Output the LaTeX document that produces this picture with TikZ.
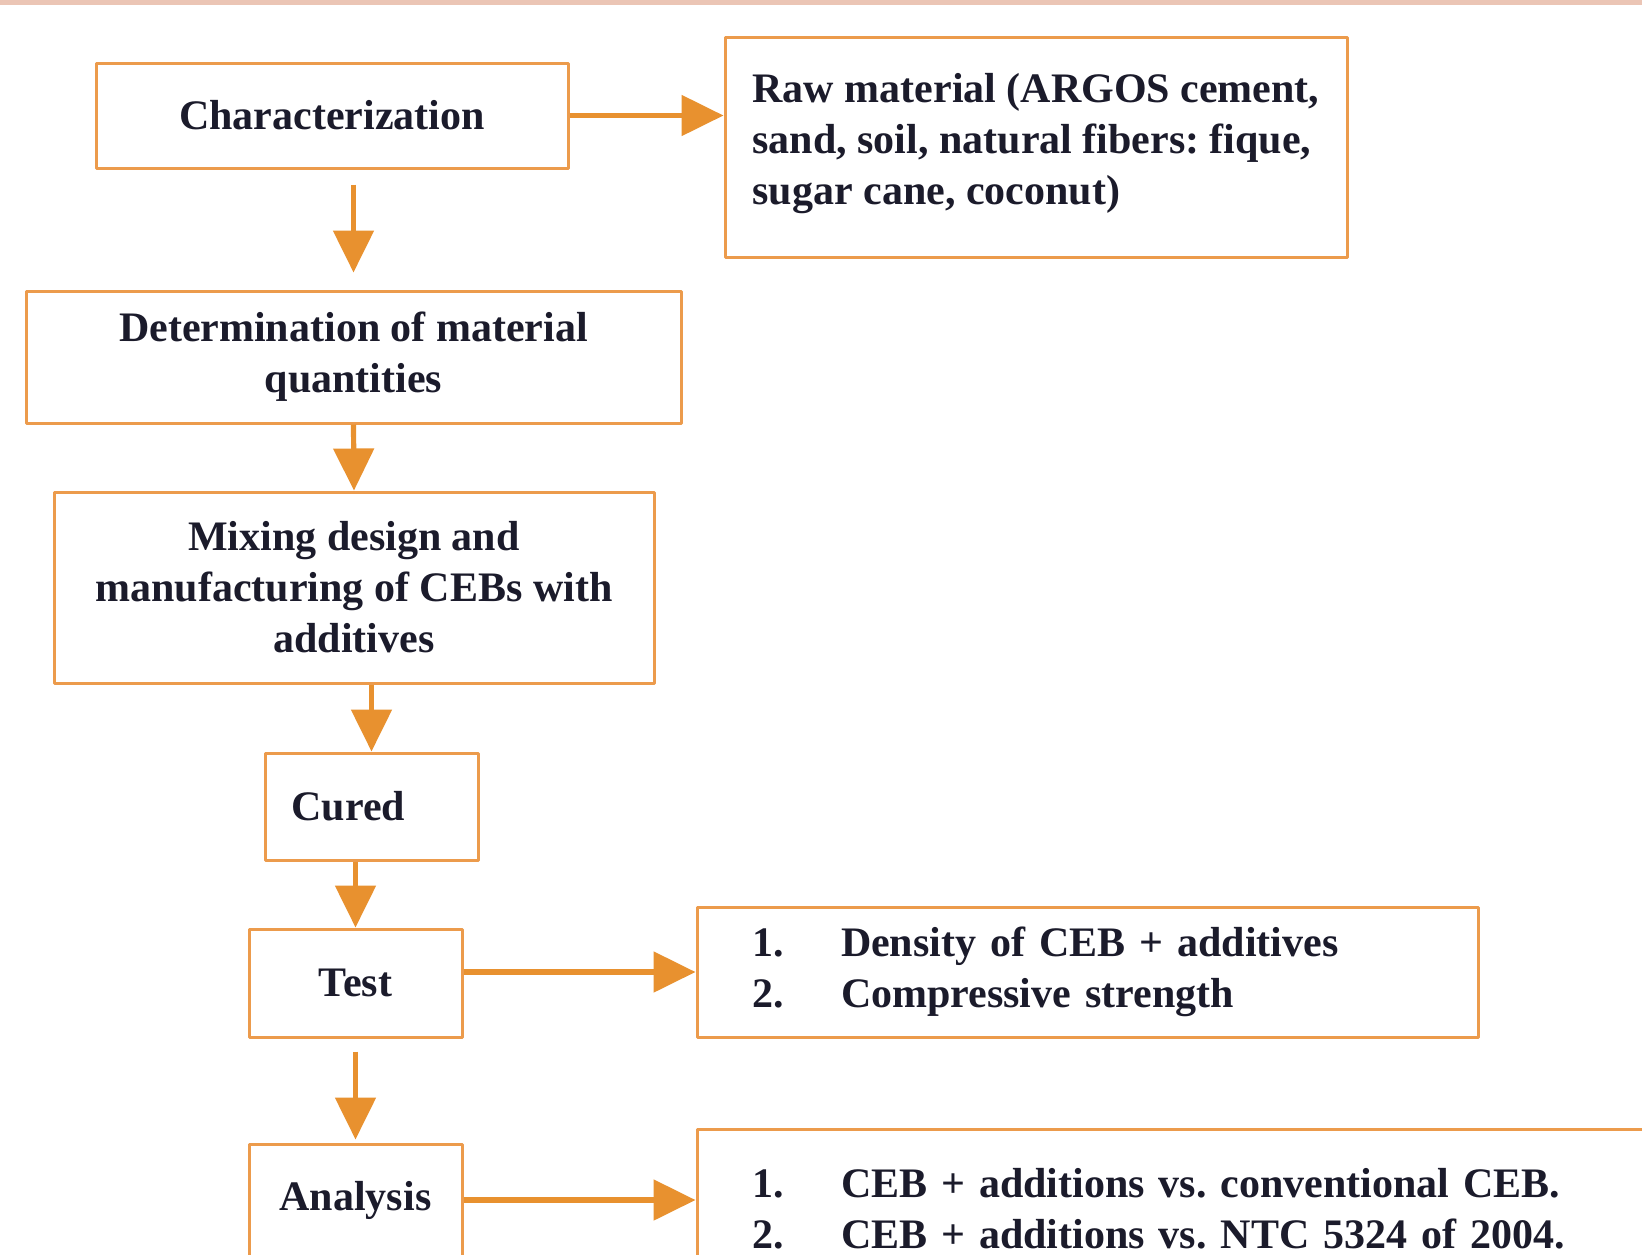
\documentclass[tikz,border=0pt]{standalone}
\usepackage{fontspec}
\setmainfont{Liberation Serif}
\usepackage{xcolor}
\usetikzlibrary{arrows.meta}
\frenchspacing

\definecolor{boxorange}{HTML}{EC9B4C}
\definecolor{arroworange}{HTML}{E8912F}
\definecolor{inkblue}{HTML}{1B1B2B}
\definecolor{stripe}{HTML}{EBC5B5}

\newcommand{\listitem}[2]{\makebox[44.5pt][l]{#1}#2}

\begin{document}
\begin{tikzpicture}[
				x=0.5pt,
				y=-0.5pt,
				line cap=round,
				line join=round,
				every node/.style={font=\fontsize{21}{25.5}\selectfont\bfseries,text=inkblue},
				box/.style={draw=boxorange,line width=1.5pt,fill=white,inner sep=0pt,align=center},
				flow/.style={draw=arroworange,line width=2.6pt,line cap=butt,
					-{Triangle[length=21pt,width=20pt]}}
				]
				\clip (0,0) rectangle (1642,1254);
				\fill[white] (0,0) rectangle (1642,1254);
				\fill[stripe] (0,0) rectangle (1642,5);
				
				% left column
				\node[box,minimum width=236pt,minimum height=52.5pt] (char) at (332,115.5)
				{Characterization};
				\node[box,minimum width=327.5pt,minimum height=66pt] (det) at (353.5,357)
				{Determination of material\\quantities};
				\node[box,minimum width=300pt,minimum height=95.5pt] (mix) at (354,587.5)
				{Mixing design and\\manufacturing of CEBs with\\additives};
				\node[box,minimum width=106.5pt,minimum height=53.5pt,
				text width=80pt,align=left] (cured) at (371.5,806.5) {Cured};
				\node[box,minimum width=106.5pt,minimum height=54pt] (test) at (355.5,983)
				{Test};
				\node[box,minimum width=106.5pt,minimum height=56pt] (analysis) at (355.5,1200)
				{Analysis};
				
				% right column
				\node[box,minimum width=311pt,minimum height=110pt,align=left] (raw) at (1036,147)
				{Raw material (ARGOS cement,\\sand, soil, natural fibers: fique,\\sugar cane, coconut)\\[-17pt]};
				\node[box,minimum width=390.5pt,minimum height=65pt,
				text width=335.5pt,align=left] (dens) at (1087.5,972)
				{\listitem{1.}{Density of CEB + additives}\\
					\listitem{2.}{Compressive strength}};
				\node[box,minimum width=482.5pt,minimum height=80pt,
				text width=427.5pt,align=left] (comp) at (1179.5,1209)
				{\listitem{1.}{CEB + additions vs. conventional CEB.}\\
					\listitem{2.}{CEB + additions vs. NTC 5324 of 2004.}};
				
				% arrows
				\draw[flow] (char.east) -- (char.east -| raw.west);
				\draw[flow,shorten <=7.5pt,shorten >=8.5pt] (det.north |- char.south) -- (det.north);
				\draw[flow] (det.south) -- (mix.north);
				\draw[flow] (cured.north |- mix.south) -- (cured.north);
				\draw[flow] (test.north |- cured.south) -- (test.north);
				\draw[flow,shorten <=6.5pt,shorten >=1.5pt] (test.south) -- (analysis.north);
				\draw[flow] (dens.west -| test.east) -- (dens.west);
				\draw[flow] (analysis.east) -- (analysis.east -| comp.west);
			\end{tikzpicture}
\end{document}
